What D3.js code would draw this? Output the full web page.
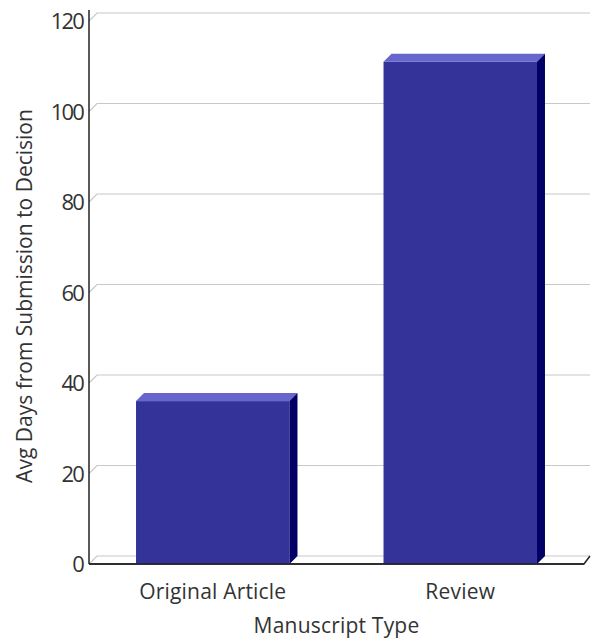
<!DOCTYPE html>
<meta charset="utf-8">
<style>
body {
  margin: 0;
  background: #fff;
  font-family: "Open Sans", sans-serif;
}
text {
  fill: #333;
}
.grid line, .grid path {
  fill: none;
  stroke: #c8c8c8;
  stroke-width: 1.2;
}
.axis-line {
  stroke: #222;
  stroke-width: 1.5;
  fill: none;
}
.label {
  font-size: 21px;
  letter-spacing: 0.2px;
}
</style>
<body>
<script src="https://cdnjs.cloudflare.com/ajax/libs/d3/7.8.5/d3.min.js"></script>
<script>

var width = 591,
    height = 644;

var categories = ["Original Article", "Review"];
var values = [36, 111];
var yTicks = [0, 20, 40, 60, 80, 100, 120];

// 3d depth offset
var dx = 8,
    dy = 8;

var x0 = 89, x1 = 584,
    yBottom = 564, yTop = 21;

var svg = d3.select("body").append("svg")
    .attr("width", width)
    .attr("height", height);

var x = d3.scaleBand()
    .domain(categories)
    .range([x0, x1])
    .paddingInner(0.38)
    .paddingOuter(0.19);

var y = d3.scaleLinear()
    .domain([0, 120])
    .range([yBottom, yTop]);

// gridlines on the back wall, with a short diagonal to the front
var grid = svg.append("g").attr("class", "grid");
grid.selectAll("path")
    .data(yTicks)
  .enter().append("path")
    .attr("d", function(d) {
      return "M" + x0 + "," + y(d) +
        "L" + (x0 + dx) + "," + (y(d) - dy) +
        "L" + (x1 + dx - 2) + "," + (y(d) - dy);
    });

// x axis front line with its right-hand diagonal
svg.append("path")
    .attr("class", "axis-line")
    .attr("d", "M" + x0 + "," + yBottom + "L" + x1 + "," + yBottom +
      "L" + (x1 + dx - 2) + "," + (yBottom - dy));

// bars
var bars = svg.selectAll(".bar")
    .data(values)
  .enter().append("g")
    .attr("class", "bar");

bars.append("rect")
    .attr("x", function(d, i) { return x(categories[i]); })
    .attr("y", function(d) { return y(d); })
    .attr("width", x.bandwidth())
    .attr("height", function(d) { return yBottom - y(d); })
    .attr("fill", "#333399");

bars.append("polygon")
    .attr("points", function(d, i) {
      var l = x(categories[i]), r = l + x.bandwidth(), t = y(d);
      return [[l, t], [l + dx, t - dy], [r + dx, t - dy], [r, t]].join(" ");
    })
    .attr("fill", "#6666cc");

bars.append("polygon")
    .attr("points", function(d, i) {
      var r = x(categories[i]) + x.bandwidth(), t = y(d);
      return [[r, t], [r + dx, t - dy], [r + dx, yBottom - dy], [r, yBottom]].join(" ");
    })
    .attr("fill", "#000066");

// redraw front baseline over the bars
svg.append("line")
    .attr("class", "axis-line")
    .attr("x1", x0).attr("x2", x1)
    .attr("y1", yBottom).attr("y2", yBottom);

// y axis
var yAxis = svg.append("g")
    .attr("transform", "translate(" + x0 + ",0)")
    .call(d3.axisLeft(y).tickValues(yTicks).tickSize(0).tickPadding(6));
yAxis.select(".domain").remove();
yAxis.selectAll("text")
    .attr("fill", "#333")
    .attr("dy", "0.36em")
    .style("font-size", "22px")
    .style("letter-spacing", "-1.8px")
    .style("font-family", "'Open Sans', sans-serif");

svg.append("line")
    .attr("class", "axis-line")
    .attr("x1", x0).attr("x2", x0)
    .attr("y1", 10).attr("y2", yBottom);

// x axis labels
svg.selectAll(".xlabel")
    .data(categories)
  .enter().append("text")
    .attr("class", "xlabel label")
    .attr("x", function(d) { return x(d) + x.bandwidth() / 2; })
    .attr("y", 599)
    .attr("text-anchor", "middle")
    .text(function(d) { return d; });

svg.append("text")
    .attr("class", "label")
    .attr("x", (x0 + x1) / 2)
    .attr("y", 633)
    .attr("text-anchor", "middle")
    .text("Manuscript Type");

svg.append("text")
    .attr("class", "label")
    .attr("transform", "translate(32," + 296 + ") rotate(-90)")
    .attr("text-anchor", "middle")
    .style("letter-spacing", "0px")
    .text("Avg Days from Submission to Decision");

</script>
